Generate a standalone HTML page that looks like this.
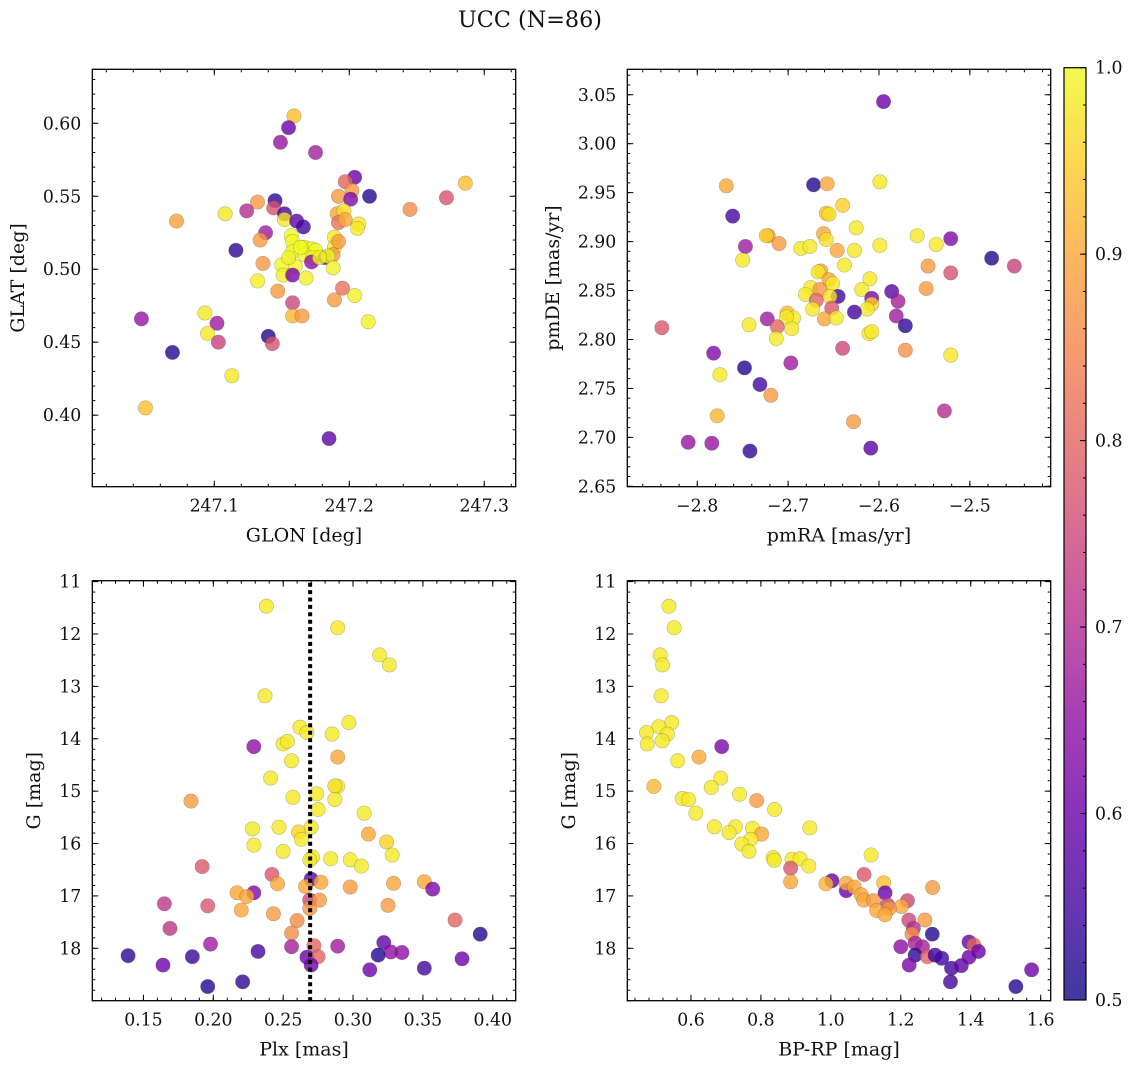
<!DOCTYPE html>
<html><head><meta charset="utf-8">
<style>
html,body{margin:0;padding:0;background:#fff;}
svg{display:block;font-family:"DejaVu Serif","Liberation Serif",serif;}
</style></head>
<body>
<svg id="fig" width="1136" height="1067" viewBox="0 0 1136 1067" xmlns="http://www.w3.org/2000/svg">
<text x="530" y="27" font-size="22.3" text-anchor="middle" fill="#111">UCC (N=86)</text>
</svg>
<script>
// ---- data: top-left (GLON vs GLAT)
const glonTL = [247.159,247.155,247.149,247.175,247.204,247.197,247.202,247.286,247.192,247.201,247.215,247.272,247.245,247.145,247.132,247.144,247.124,247.108,247.152,247.152,247.072,247.161,247.166,247.191,247.196,247.192,247.197,247.207,247.206,247.138,247.134,247.157,247.189,247.158,247.116,247.167,247.172,247.175,247.189,247.158,247.167,247.173,247.182,247.188,247.184,247.136,247.150,247.160,247.172,247.188,247.151,247.158,247.168,247.132,247.147,247.195,247.204,247.189,247.158,247.158,247.165,247.214,247.046,247.093,247.102,247.095,247.103,247.140,247.143,247.069,247.113,247.049,247.185,247.164,247.178,247.155,247.192];
const glatTL = [0.605,0.597,0.587,0.580,0.563,0.560,0.554,0.559,0.550,0.548,0.550,0.549,0.541,0.547,0.546,0.542,0.540,0.538,0.538,0.534,0.533,0.533,0.529,0.538,0.540,0.532,0.534,0.531,0.528,0.525,0.520,0.523,0.522,0.519,0.513,0.515,0.514,0.513,0.515,0.512,0.510,0.508,0.508,0.510,0.509,0.504,0.503,0.502,0.505,0.501,0.496,0.496,0.494,0.492,0.485,0.487,0.482,0.479,0.477,0.468,0.468,0.464,0.466,0.470,0.463,0.456,0.450,0.454,0.449,0.443,0.427,0.405,0.384,0.515,0.508,0.508,0.519];
const probTL = [0.93,0.6,0.66,0.68,0.6,0.8,0.88,0.93,0.88,0.63,0.52,0.77,0.86,0.53,0.88,0.77,0.7,0.98,0.55,0.98,0.89,0.58,0.55,0.9,0.97,0.82,0.9,0.98,0.98,0.67,0.88,1.0,0.98,1.0,0.53,1.0,1.0,1.0,0.98,1.0,1.0,1.0,0.55,0.88,1.0,0.88,1.0,1.0,0.65,0.99,0.99,0.62,0.99,0.99,0.88,0.82,0.99,0.88,0.75,0.92,0.88,0.99,0.66,0.98,0.67,0.98,0.74,0.52,0.77,0.52,0.98,0.93,0.58,1.0,0.99,0.99,0.88];
// ---- data: top-right (pmRA vs pmDE)
const pmraTR = [-2.595,-2.768,-2.672,-2.657,-2.599,-2.640,-2.761,-2.658,-2.655,-2.625,-2.722,-2.724,-2.661,-2.658,-2.710,-2.747,-2.558,-2.537,-2.521,-2.599,-2.686,-2.676,-2.646,-2.627,-2.750,-2.476,-2.451,-2.638,-2.546,-2.521,-2.664,-2.667,-2.655,-2.610,-2.651,-2.675,-2.665,-2.619,-2.548,-2.681,-2.645,-2.654,-2.669,-2.586,-2.608,-2.608,-2.579,-2.613,-2.673,-2.652,-2.627,-2.701,-2.694,-2.702,-2.660,-2.647,-2.723,-2.581,-2.743,-2.712,-2.696,-2.571,-2.839,-2.713,-2.611,-2.608,-2.640,-2.571,-2.521,-2.782,-2.697,-2.775,-2.748,-2.731,-2.719,-2.778,-2.628,-2.528,-2.810,-2.784,-2.742,-2.609];
const pmdeTR = [3.043,2.957,2.958,2.959,2.961,2.937,2.926,2.929,2.928,2.914,2.906,2.906,2.908,2.902,2.898,2.895,2.906,2.897,2.903,2.896,2.893,2.895,2.891,2.891,2.881,2.883,2.875,2.876,2.875,2.868,2.870,2.869,2.861,2.862,2.857,2.853,2.851,2.851,2.852,2.846,2.844,2.844,2.840,2.849,2.842,2.836,2.839,2.831,2.831,2.832,2.828,2.827,2.822,2.823,2.821,2.822,2.821,2.824,2.815,2.813,2.811,2.814,2.812,2.801,2.806,2.808,2.791,2.789,2.784,2.786,2.776,2.764,2.771,2.754,2.743,2.722,2.716,2.727,2.695,2.694,2.686,2.689];
const probTR = [0.6,0.9,0.52,0.9,0.98,0.95,0.55,0.93,0.97,0.98,0.88,0.95,0.9,0.97,0.88,0.67,0.98,0.98,0.63,0.98,0.98,0.98,0.9,0.98,0.98,0.52,0.74,0.98,0.88,0.77,0.9,0.98,0.9,0.98,0.98,0.98,0.88,0.98,0.88,0.98,0.55,0.97,0.8,0.58,0.62,0.95,0.68,0.98,0.98,0.78,0.55,0.92,0.98,0.98,0.9,0.98,0.67,0.67,0.98,0.8,0.98,0.53,0.78,0.98,0.98,0.98,0.75,0.87,0.98,0.63,0.67,0.98,0.52,0.55,0.88,0.92,0.88,0.7,0.66,0.66,0.53,0.58];
// ---- data: bottom-left (Plx vs G)
const plxBL = [0.238,0.289,0.319,0.326,0.237,0.297,0.262,0.267,0.285,0.250,0.253,0.229,0.289,0.256,0.241,0.289,0.287,0.274,0.184,0.257,0.287,0.275,0.308,0.228,0.247,0.270,0.261,0.263,0.311,0.324,0.229,0.250,0.328,0.271,0.284,0.298,0.269,0.306,0.192,0.242,0.270,0.246,0.277,0.266,0.298,0.329,0.351,0.357,0.229,0.217,0.224,0.269,0.276,0.165,0.196,0.325,0.269,0.220,0.243,0.260,0.373,0.169,0.256,0.391,0.198,0.256,0.272,0.289,0.322,0.327,0.335,0.232,0.139,0.318,0.185,0.267,0.275,0.378,0.164,0.270,0.312,0.351,0.221,0.196];
const gBL = [11.47,11.88,12.40,12.59,13.18,13.69,13.78,13.88,13.91,14.10,14.05,14.15,14.35,14.42,14.75,14.91,14.90,15.05,15.19,15.12,15.16,15.35,15.42,15.72,15.69,15.69,15.78,15.92,15.82,15.97,16.03,16.15,16.22,16.26,16.29,16.31,16.31,16.43,16.44,16.59,16.68,16.77,16.74,16.82,16.83,16.76,16.73,16.87,16.94,16.94,17.01,17.08,17.08,17.15,17.19,17.18,17.24,17.27,17.34,17.47,17.46,17.62,17.71,17.73,17.92,17.97,17.95,17.96,17.89,18.07,18.08,18.06,18.14,18.13,18.16,18.17,18.16,18.20,18.32,18.32,18.41,18.38,18.64,18.73];
const probBL = [0.98,0.98,0.98,0.98,0.98,0.98,0.98,0.98,0.98,0.98,0.98,0.65,0.9,0.98,0.98,0.98,0.97,0.98,0.88,0.98,0.98,0.98,0.98,0.98,0.98,0.98,0.95,0.98,0.9,0.95,0.98,0.98,0.98,0.98,0.98,0.98,0.98,0.98,0.78,0.78,0.58,0.9,0.9,0.9,0.88,0.9,0.9,0.62,0.63,0.9,0.9,0.75,0.88,0.72,0.78,0.88,0.88,0.9,0.88,0.86,0.8,0.72,0.86,0.52,0.67,0.68,0.8,0.67,0.58,0.65,0.65,0.55,0.53,0.52,0.54,0.6,0.8,0.6,0.6,0.6,0.6,0.55,0.53,0.52];
const plxLine = 0.2693;
// ---- data: bottom-right (BP-RP vs G)
const bprpBR = [0.537,0.552,0.512,0.519,0.515,0.545,0.508,0.473,0.533,0.518,0.475,0.688,0.623,0.562,0.685,0.494,0.658,0.739,0.788,0.575,0.593,0.839,0.614,0.667,0.727,0.776,0.709,0.802,0.940,0.771,0.745,0.766,1.115,0.835,0.838,0.889,0.912,0.937,0.885,1.095,0.885,1.003,0.986,1.044,1.044,1.067,1.151,1.155,1.291,1.087,1.094,1.122,1.162,1.219,1.202,1.131,1.167,1.155,1.223,1.269,1.236,1.232,1.290,1.200,1.241,1.262,1.241,1.276,1.298,1.317,1.224,1.345,1.373,1.395,1.395,1.409,1.422,1.342,1.529,1.574];
const gBR = [11.47,11.88,12.40,12.59,13.18,13.69,13.77,13.88,13.91,14.04,14.10,14.15,14.35,14.42,14.75,14.91,14.93,15.06,15.18,15.14,15.16,15.35,15.42,15.68,15.68,15.71,15.79,15.82,15.70,15.92,16.01,16.15,16.22,16.27,16.32,16.30,16.29,16.43,16.47,16.59,16.73,16.71,16.77,16.90,16.76,16.83,16.75,16.94,16.84,16.98,17.08,17.09,17.17,17.09,17.20,17.28,17.24,17.36,17.46,17.46,17.62,17.73,17.73,17.97,17.90,17.97,18.13,18.16,18.13,18.19,18.32,18.38,18.33,18.17,17.88,17.94,18.06,18.64,18.73,18.41];
const probBR = [0.98,0.98,0.98,0.98,0.98,0.98,0.98,0.98,0.98,0.98,0.98,0.62,0.9,0.98,0.98,0.92,0.98,0.98,0.88,0.98,0.98,0.98,0.98,0.98,0.98,0.98,0.98,0.9,0.98,0.98,0.98,0.98,0.98,0.98,0.98,0.98,0.98,0.98,0.78,0.78,0.9,0.6,0.92,0.6,0.9,0.9,0.93,0.6,0.88,0.9,0.9,0.88,0.75,0.75,0.9,0.9,0.88,0.9,0.75,0.88,0.7,0.86,0.52,0.65,0.68,0.68,0.53,0.8,0.55,0.55,0.62,0.55,0.58,0.6,0.6,0.8,0.6,0.55,0.52,0.6];
// ---- tick labels
const ticksTLx = [247.1,247.2,247.3];
const ticksTLy = [0.40,0.45,0.50,0.55,0.60];
const ticksTRx = [-2.8,-2.7,-2.6,-2.5];
const ticksTRy = [2.65,2.70,2.75,2.80,2.85,2.90,2.95,3.00,3.05];
const ticksBLx = [0.15,0.20,0.25,0.30,0.35,0.40];
const ticksGy = [11,12,13,14,15,16,17,18];
const ticksBRx = [0.6,0.8,1.0,1.2,1.4,1.6];
const ticksCbar = [0.5,0.6,0.7,0.8,0.9,1.0];

const NS = "http://www.w3.org/2000/svg";
const svg = document.getElementById('fig');
function mk(tag, attrs, parent){const e=document.createElementNS(NS,tag);for(const k in attrs)e.setAttribute(k,attrs[k]);(parent||svg).appendChild(e);return e;}

const stops=[[13,8,135],[65,4,157],[106,0,168],[143,13,164],[177,42,144],[204,71,120],[225,100,98],[242,132,75],[252,166,54],[252,206,37],[240,249,33]];
function plasma(p){let t=(p-0.5)/0.5;t=Math.max(0,Math.min(1,t));const f=t*10,i=Math.min(9,Math.floor(f)),r=f-i;const a=stops[i],b=stops[i+1];
 return 'rgb('+[0,1,2].map(k=>Math.round(a[k]+(b[k]-a[k])*r)).join(',')+')';}

function fmt(v,d){return (v<0?'\u2212':'')+Math.abs(v).toFixed(d);}

function panel(cfg){
 const g=mk('g',{});
 
 
 const X=v=>cfg.l+(v-cfg.x0)/(cfg.x1-cfg.x0)*(cfg.r-cfg.l);
 const Y=v=>cfg.b-(v-cfg.y0)/(cfg.y1-cfg.y0)*(cfg.b-cfg.t);
 const clipId='clip-'+cfg.name;
 const cp=mk('clipPath',{id:clipId},g);mk('rect',{x:cfg.l,y:cfg.t,width:cfg.r-cfg.l,height:cfg.b-cfg.t},cp);
 const pts=mk('g',{'clip-path':'url(#'+clipId+')'},g);
 
 
 for(let i=0;i<cfg.xs.length;i++){
  const c=mk('circle',{cx:X(cfg.xs[i]),cy:Y(cfg.ys[i]),r:7.2,fill:plasma(cfg.ps[i]),'fill-opacity':0.8,stroke:'#444','stroke-opacity':0.35,'stroke-width':0.6},pts);
  
  
 }
 if(cfg.vline!==undefined){
  const ln=mk('line',{x1:X(cfg.vline),x2:X(cfg.vline),y1:cfg.t+2,y2:cfg.b,stroke:'#000','stroke-width':4,'stroke-dasharray':'4 3.4'},pts);
  
  
 }
 const tk=mk('g',{stroke:'#000','stroke-width':1},g);
 for(let v=cfg.mx0;v<=cfg.x1+1e-9;v+=cfg.mxs){if(v<cfg.x0)continue;const x=X(v);mk('line',{x1:x,x2:x,y1:cfg.b,y2:cfg.b-3},tk);mk('line',{x1:x,x2:x,y1:cfg.t,y2:cfg.t+3},tk);}
 for(let v=cfg.my0;v<=Math.max(cfg.y0,cfg.y1)+1e-9;v+=cfg.mys){if(v<Math.min(cfg.y0,cfg.y1))continue;const y=Y(v);mk('line',{x1:cfg.l,x2:cfg.l+3,y1:y,y2:y},tk);mk('line',{x1:cfg.r,x2:cfg.r-3,y1:y,y2:y},tk);}
 const txt=mk('g',{'font-size':17.3,fill:'#111'},g);
 cfg.tx.forEach(v=>{const x=X(v);mk('line',{x1:x,x2:x,y1:cfg.b,y2:cfg.b-6},tk);mk('line',{x1:x,x2:x,y1:cfg.t,y2:cfg.t+6},tk);
  const t=mk('text',{x:x,y:cfg.b+25,'text-anchor':'middle'},txt);t.textContent=fmt(v,cfg.dx);
  
  });
 cfg.ty.forEach(v=>{const y=Y(v);mk('line',{x1:cfg.l,x2:cfg.l+6,y1:y,y2:y},tk);mk('line',{x1:cfg.r,x2:cfg.r-6,y1:y,y2:y},tk);
  const t=mk('text',{x:cfg.l-11,y:y+6,'text-anchor':'end'},txt);t.textContent=fmt(v,cfg.dy);
  
  });
 mk('rect',{x:cfg.l,y:cfg.t,width:cfg.r-cfg.l,height:cfg.b-cfg.t,fill:'none',stroke:'#000','stroke-width':1.3},g);
 const xl=mk('text',{x:(cfg.l+cfg.r)/2,y:cfg.b+55,'text-anchor':'middle','font-size':19,fill:'#111'},g);xl.textContent=cfg.xlab;
 
 
 const yc=(cfg.t+cfg.b)/2;
 const yl=mk('text',{x:cfg.ylx,y:yc,'text-anchor':'middle','font-size':19,fill:'#111',transform:'rotate(-90 '+cfg.ylx+' '+yc+')'},g);yl.textContent=cfg.ylab;
 
 
}

panel({name:'glon-glat-panel',l:92.3,r:515.7,t:69.3,b:486.7,x0:247.0096,x1:247.3233,y0:0.351,y1:0.637,
 xs:glonTL,ys:glatTL,ps:probTL,tx:ticksTLx,ty:ticksTLy,dx:1,dy:2,mx0:247.0,mxs:0.02,my0:0.35,mys:0.01,xlab:'GLON [deg]',ylab:'GLAT [deg]',ylx:24});
panel({name:'pm-panel',l:627.3,r:1050.7,t:69.3,b:486.7,x0:-2.877,x1:-2.411,y0:2.6496,y1:3.076,
 xs:pmraTR,ys:pmdeTR,ps:probTR,tx:ticksTRx,ty:ticksTRy,dx:1,dy:2,mx0:-2.88,mxs:0.02,my0:2.65,mys:0.01,xlab:'pmRA [mas/yr]',ylab:'pmDE [mas/yr]',ylx:559});
panel({name:'plx-g-panel',l:92.3,r:515.7,t:580.7,b:1000.7,x0:0.1134,x1:0.4164,y0:19.0,y1:10.983,
 xs:plxBL,ys:gBL,ps:probBL,tx:ticksBLx,ty:ticksGy,dx:2,dy:0,mx0:0.12,mxs:0.01,my0:11.0,mys:0.2,xlab:'Plx [mas]',ylab:'G [mag]',ylx:40,vline:plxLine});
panel({name:'cmd-panel',l:627.3,r:1050.7,t:580.7,b:1000.7,x0:0.418,x1:1.6286,y0:19.0,y1:10.983,
 xs:bprpBR,ys:gBR,ps:probBR,tx:ticksBRx,ty:ticksGy,dx:1,dy:0,mx0:0.44,mxs:0.04,my0:11.0,mys:0.2,xlab:'BP-RP [mag]',ylab:'G [mag]',ylx:575});

(function(){
 const l=1064,r=1086,t=67.7,b=1000;
 const g=mk('g',{});
 
 
 const defs=mk('defs',{},g);
 const lg=mk('linearGradient',{id:'cbg',x1:0,y1:1,x2:0,y2:0},defs);
 for(let i=0;i<=20;i++){const p=0.5+i*0.025;mk('stop',{offset:(i/20),'stop-color':plasma(p),'stop-opacity':0.8},lg);}
 mk('rect',{x:l,y:t,width:r-l,height:b-t,fill:'url(#cbg)',stroke:'#000','stroke-width':1.2},g);
 const Y=v=>b-(v-0.5)/0.5*(b-t);
 for(let v=0.52;v<1.0-1e-9;v+=0.02){const y=Y(v);mk('line',{x1:r,x2:r-3,y1:y,y2:y,stroke:'#000','stroke-width':1},g);}
 ticksCbar.forEach(v=>{const y=Y(v);mk('line',{x1:r,x2:r-6,y1:y,y2:y,stroke:'#000','stroke-width':1},g);
  const tx=mk('text',{x:r+9,y:y+6,'font-size':17.3,fill:'#111'},g);tx.textContent=v.toFixed(1);
  
  });
})();
</script>
</body></html>
